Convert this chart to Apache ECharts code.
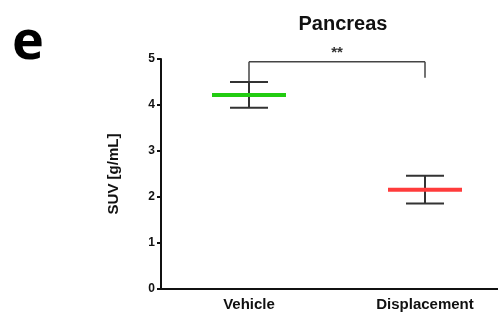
<!DOCTYPE html>
<html><head><meta charset="utf-8">
<script src="https://cdn.jsdelivr.net/npm/echarts@6/dist/echarts.min.js"></script>
<style>html,body{margin:0;padding:0;background:#fff}#c{width:498px;height:320px}</style>
</head><body><div id="c"></div>
<script>
var categories = ['Vehicle', 'Displacement'];
var means = [4.22, 2.16];
var errors = [0.28, 0.30];
var colors = ['#22cc11', '#ff3b3b'];
var yTicks = [0, 1, 2, 3, 4, 5];
var bracket = { from: 0, to: 1, level: 4.94, leftEnd: 4.5, rightEnd: 4.59, label: '**' };

var chart = echarts.init(document.getElementById('c'));
var FONT = '"Liberation Sans", Arial, sans-serif';

var meanData = categories.map(function (c, i) { return [i, means[i], errors[i]]; });

chart.setOption({
  backgroundColor: '#fff',
  animation: false,
  title: [
    { text: 'Pancreas', left: 338, top: 9, textAlign: 'center',
      textStyle: { fontFamily: FONT, fontWeight: 'bold', fontSize: 20, color: '#111' } },
    { text: 'e', left: 7, top: 12,
      textStyle: { fontFamily: '"Open Sans", "Liberation Sans", sans-serif', fontWeight: 'bold', fontSize: 54, color: '#000' } }
  ],
  grid: { left: 161, right: -15, top: 59, bottom: 31, outerBoundsMode: 'none', containLabel: false },
  xAxis: {
    type: 'category', data: categories,
    axisLine: { lineStyle: { color: '#111', width: 2 } },
    axisTick: { alignWithLabel: true, length: 4, lineStyle: { color: '#111', width: 2 } },
    axisLabel: { fontFamily: FONT, fontWeight: 'bold', fontSize: 15, color: '#111', margin: 8 }
  },
  yAxis: {
    type: 'value', min: yTicks[0], max: yTicks[yTicks.length - 1], interval: 1,
    name: 'SUV [g/mL]', nameLocation: 'middle', nameGap: 40, nameRotate: 90,
    nameTextStyle: { fontFamily: FONT, fontWeight: 'bold', fontSize: 15, color: '#111' },
    axisLine: { show: true, lineStyle: { color: '#111', width: 2 } },
    axisTick: { show: true, length: 4, lineStyle: { color: '#111', width: 2 } },
    axisLabel: { fontFamily: FONT, fontWeight: 'bold', fontSize: 12, color: '#111', margin: 6 },
    splitLine: { show: false }
  },
  series: [
    {
      type: 'custom', data: meanData, z: 3,
      renderItem: function (params, api) {
        var i = api.value(0), m = api.value(1), e = api.value(2);
        var c = api.coord([i, m]);
        var top = api.coord([i, m + e]);
        var bot = api.coord([i, m - e]);
        var ls = { stroke: '#333', lineWidth: 2 };
        return {
          type: 'group',
          children: [
            { type: 'line', shape: { x1: c[0], y1: top[1], x2: c[0], y2: bot[1] }, style: ls },
            { type: 'line', shape: { x1: c[0] - 19, y1: top[1], x2: c[0] + 19, y2: top[1] }, style: ls },
            { type: 'line', shape: { x1: c[0] - 19, y1: bot[1], x2: c[0] + 19, y2: bot[1] }, style: ls },
            { type: 'line', shape: { x1: c[0] - 37, y1: c[1], x2: c[0] + 37, y2: c[1] },
              style: { stroke: colors[i], lineWidth: 4 } }
          ]
        };
      }
    },
    {
      type: 'custom', data: [[bracket.from, bracket.to, bracket.level, bracket.leftEnd, bracket.rightEnd]], z: 2,
      renderItem: function (params, api) {
        var a = api.coord([api.value(0), api.value(2)]);
        var b = api.coord([api.value(1), api.value(2)]);
        var aEnd = api.coord([api.value(0), api.value(3)]);
        var bEnd = api.coord([api.value(1), api.value(4)]);
        var ls = { stroke: '#444', lineWidth: 1.5 };
        return {
          type: 'group',
          children: [
            { type: 'line', shape: { x1: a[0], y1: a[1], x2: b[0], y2: b[1] }, style: ls },
            { type: 'line', shape: { x1: a[0], y1: a[1], x2: aEnd[0], y2: aEnd[1] }, style: ls },
            { type: 'line', shape: { x1: b[0], y1: b[1], x2: bEnd[0], y2: bEnd[1] }, style: ls },
            { type: 'text', style: { text: bracket.label, x: (a[0] + b[0]) / 2, y: a[1] - 1,
              textAlign: 'center', textVerticalAlign: 'bottom',
              font: 'bold 15px ' + FONT, fill: '#333' } }
          ]
        };
      }
    }
  ]
});
</script></body></html>
